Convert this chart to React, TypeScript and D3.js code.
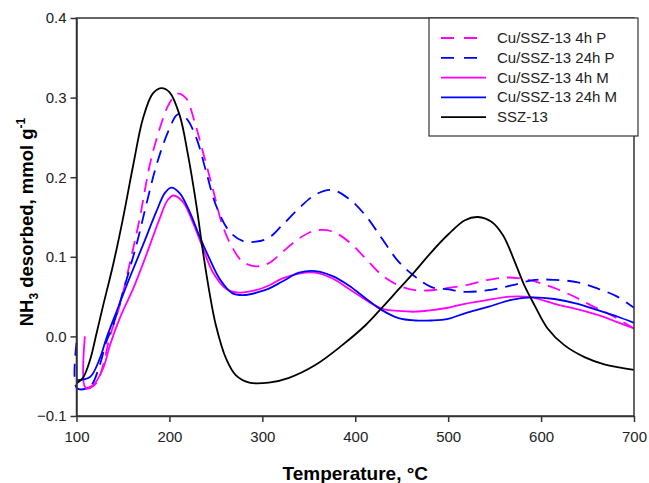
import { useEffect, useRef } from "react"
import * as d3 from "d3"

// [temperature °C, NH3 desorbed mmol/g]
const cu4hP: [number, number][] = [
  [110, -0.066], [114.5, -0.065], [122, -0.058], [128.7, -0.036], [136, 0.0], [146.6, 0.039],
  [157, 0.09], [168, 0.148], [178.8, 0.215], [189.5, 0.261], [200, 0.293], [209, 0.305],
  [218, 0.299], [227, 0.27], [236, 0.232], [246.6, 0.186], [257, 0.14], [268, 0.111],
  [278.7, 0.094], [293, 0.088], [307, 0.092], [321.6, 0.106], [339.5, 0.123], [357, 0.133],
  [375, 0.132], [393, 0.119], [411, 0.098], [428.7, 0.077], [446.6, 0.064], [464.5, 0.058],
  [482, 0.058], [500, 0.061], [518, 0.064], [543, 0.071], [564.5, 0.074], [586, 0.071],
  [607, 0.064], [632, 0.052], [653.7, 0.039], [675, 0.027], [700, 0.01],
]

const cu24hP: [number, number][] = [
  [100, -0.008], [100.5, -0.065], [114.5, -0.063], [125, -0.036], [132, -0.007], [139.4, 0.014],
  [150, 0.056], [164.5, 0.115], [175, 0.165], [186, 0.215], [200, 0.261], [209, 0.279],
  [218, 0.274], [229, 0.249], [239.5, 0.207], [250, 0.165], [264.5, 0.132], [278.7, 0.12],
  [293, 0.119], [307, 0.124], [321.6, 0.14], [339.5, 0.161], [357, 0.178], [375, 0.184],
  [393, 0.173], [411, 0.152], [428.7, 0.123], [446.6, 0.094], [464.5, 0.075], [482, 0.062],
  [500, 0.059], [518, 0.056], [543, 0.058], [568, 0.064], [593, 0.071], [614.5, 0.071],
  [639.5, 0.068], [661, 0.06], [682, 0.05], [700, 0.036],
]

const cu4hM: [number, number][] = [
  [109, 0.0], [109.5, -0.064], [118, -0.061], [128.7, -0.04], [136, -0.011], [146.6, 0.023],
  [161, 0.06], [175, 0.102], [189.5, 0.148], [198, 0.171], [204.5, 0.177], [214.5, 0.169],
  [225, 0.144], [236, 0.111], [246.6, 0.081], [261, 0.06], [275, 0.055], [293, 0.058],
  [307, 0.064], [321.6, 0.073], [339.5, 0.079], [357, 0.08], [375, 0.073], [393, 0.06],
  [411, 0.046], [428.7, 0.035], [446.6, 0.032], [464.5, 0.031], [482, 0.033], [500, 0.036],
  [518, 0.041], [543, 0.046], [568, 0.05], [589.5, 0.049], [614.5, 0.041], [639.5, 0.034],
  [661, 0.027], [682, 0.018], [700, 0.01],
]

const cu24hM: [number, number][] = [
  [100, -0.055], [114.5, -0.051], [125, -0.028], [132, -0.003], [143, 0.031], [157, 0.073],
  [171.6, 0.115], [186, 0.157], [195, 0.18], [202, 0.187], [211, 0.18], [221.6, 0.157],
  [232, 0.127], [243, 0.098], [253.7, 0.073], [268, 0.054], [282, 0.052], [296.6, 0.056],
  [307, 0.06], [321.6, 0.069], [339.5, 0.08], [357, 0.082], [375, 0.076], [393, 0.064],
  [411, 0.048], [428.7, 0.033], [446.6, 0.023], [464.5, 0.02], [482, 0.02], [500, 0.022],
  [518, 0.029], [543, 0.037], [568, 0.046], [589.5, 0.049], [614.5, 0.047], [639.5, 0.041],
  [661, 0.033], [682, 0.025], [700, 0.017],
]

const ssz13: [number, number][] = [
  [100, -0.059], [107, -0.052], [114.5, -0.03], [121.6, 0.004], [128.7, 0.039], [139.4, 0.09],
  [150, 0.148], [161, 0.215], [171.6, 0.274], [182, 0.305], [191, 0.312], [200, 0.307],
  [211, 0.278], [220, 0.228], [229, 0.165], [236, 0.107], [243, 0.056], [250, 0.014],
  [261, -0.028], [271.6, -0.049], [286, -0.058], [307, -0.058], [328.8, -0.052], [357, -0.036],
  [386, -0.011], [411, 0.014], [428.7, 0.036], [446.6, 0.059], [464.5, 0.082], [482, 0.106],
  [500, 0.128], [518, 0.146], [532, 0.15], [546.6, 0.144], [559, 0.127], [571.6, 0.094],
  [582, 0.064], [593, 0.039], [607, 0.01], [625, -0.011], [646.7, -0.026], [668, -0.035],
  [700, -0.042],
]

const seriesNames = ["Cu/SSZ-13 4h P", "Cu/SSZ-13 24h P", "Cu/SSZ-13 4h M", "Cu/SSZ-13 24h M", "SSZ-13"]
const seriesData = [cu4hP, cu24hP, cu4hM, cu24hM, ssz13]
const seriesColors = ["#ff00ff", "#0000ff", "#ff00ff", "#0000ff", "#000000"]
const seriesDashed = [true, true, false, false, false]

const xTicks = [100, 200, 300, 400, 500, 600, 700]
const yTicks = [-0.1, 0.0, 0.1, 0.2, 0.3, 0.4]

export default function App() {
  const ref = useRef<SVGSVGElement>(null)

  useEffect(() => {
    const svg = d3.select(ref.current)
    svg.selectAll("*").remove()

    const left = 76.5, right = 634, top = 18, bottom = 416
    const font = "Arial, 'Liberation Sans', sans-serif"

    const x = d3.scaleLinear().domain([100, 700]).range([left, right])
    const y = d3.scaleLinear().domain([-0.1, 0.4]).range([bottom, top])

    const line = d3.line<[number, number]>()
      .x(d => x(d[0]))
      .y(d => y(d[1]))
      .curve(d3.curveCatmullRom.alpha(0.5))

    // curves
    seriesData.forEach((data, i) => {
      svg.append("path")
        .datum(data)
        .attr("fill", "none")
        .attr("stroke", seriesColors[i])
        .attr("stroke-width", 1.8)
        .attr("stroke-dasharray", seriesDashed[i] ? "13,8" : null)
        .attr("d", line)
    })

    // frame
    svg.append("rect")
      .attr("x", left).attr("y", top)
      .attr("width", right - left).attr("height", bottom - top)
      .attr("fill", "none").attr("stroke", "#333").attr("stroke-width", 1.5)

    // axes
    const xAxis = svg.append("g")
      .attr("transform", `translate(0,${bottom})`)
      .call(d3.axisBottom(x).tickValues(xTicks).tickSize(6).tickSizeOuter(0).tickPadding(9).tickFormat(d3.format("d")))
    const yAxis = svg.append("g")
      .attr("transform", `translate(${left},0)`)
      .call(d3.axisLeft(y).tickValues(yTicks).tickSize(6).tickSizeOuter(0).tickPadding(4).tickFormat(d3.format(".1f")))
    ;[xAxis, yAxis].forEach(a => {
      a.select(".domain").attr("stroke", "#333").attr("stroke-width", 1.5)
      a.selectAll(".tick line").attr("stroke", "#333").attr("stroke-width", 1.5)
      a.selectAll(".tick text").attr("font-family", font).attr("font-size", 15).attr("fill", "#222")
    })

    // axis titles
    svg.append("text")
      .attr("x", (left + right) / 2).attr("y", 480)
      .attr("text-anchor", "middle")
      .attr("font-family", font).attr("font-size", 19).attr("font-weight", "bold")
      .text("Temperature, °C")

    const yt = svg.append("text")
      .attr("transform", `translate(33,${(top + bottom) / 2 + 5}) rotate(-90)`)
      .attr("text-anchor", "middle")
      .attr("font-family", font).attr("font-size", 18.5).attr("font-weight", "bold")
    yt.append("tspan").text("NH")
    yt.append("tspan").attr("font-size", 12).attr("dy", 5).text("3")
    yt.append("tspan").attr("dy", -5).text(" desorbed, mmol g")
    yt.append("tspan").attr("font-size", 12).attr("dy", -8).text("-1")

    // legend
    const lg = svg.append("g")
    lg.append("rect")
      .attr("x", 429).attr("y", 18).attr("width", 209).attr("height", 118)
      .attr("fill", "#fff").attr("stroke", "#333").attr("stroke-width", 1.2)
    seriesNames.forEach((name, i) => {
      const cy = 38 + i * 19.8
      lg.append("line")
        .attr("x1", 441).attr("x2", 486).attr("y1", cy).attr("y2", cy)
        .attr("stroke", seriesColors[i]).attr("stroke-width", 1.8)
        .attr("stroke-dasharray", seriesDashed[i] ? "13,10" : null)
      lg.append("text")
        .attr("x", 497).attr("y", cy + 5)
        .attr("font-family", font).attr("font-size", 15).attr("fill", "#222")
        .text(name)
    })
  }, [])

  return (
    <svg ref={ref} width={649} height={483}
      style={{ position: "absolute", left: 0, top: 0, background: "#fff" }} />
  )
}
